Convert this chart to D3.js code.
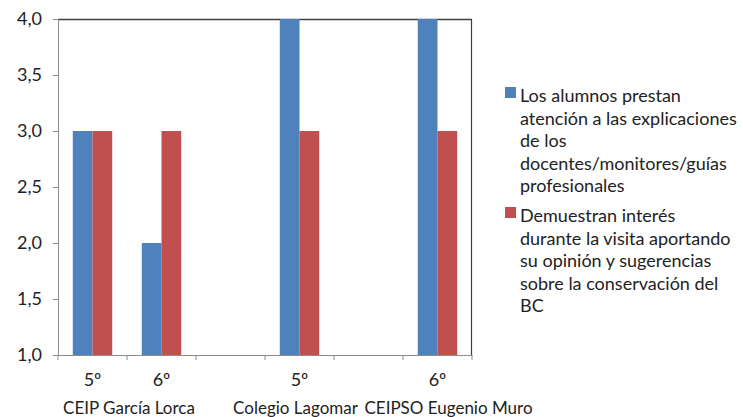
<!DOCTYPE html>
<html><head><meta charset="utf-8">
<script src="https://cdn.jsdelivr.net/npm/d3@7"></script>
<style>body{margin:0;background:#fff;} svg{display:block;font-family:Lato,"Open Sans",sans-serif;}</style>
</head><body><svg id="c" width="743" height="417"></svg>
<script>
const categories = ["5º","6º","","5º","","6º"];
const groups = ["CEIP García Lorca","Colegio Lagomar","CEIPSO Eugenio Muro"];
const groupCats = [[0,1],[3,3],[5,5]];
const seriesNames = ["Los alumnos prestan atención a las explicaciones de los docentes/monitores/guías profesionales",
 "Demuestran interés durante la visita aportando su opinión y sugerencias sobre la conservación del BC"];
const seriesA = [3,2,null,4,null,4];
const seriesB = [3,3,null,3,null,3];
const yTicks = [1,1.5,2,2.5,3,3.5,4];
const legendLines = [["Los alumnos prestan","atención a las explicaciones","de los","docentes/monitores/guías","profesionales"],
 ["Demuestran interés","durante la visita aportando","su opinión y sugerencias","sobre la conservación del","BC"]];
const colors = ["#4F81BD","#C0504D"];

const svg = d3.select("#c");
const L=58,R=472,T=19,B=355;
const FS=18;
const x = d3.scaleBand().domain(d3.range(categories.length)).range([L,R]).paddingInner(0).paddingOuter(0);
const y = d3.scaleLinear().domain([1,4]).range([B,T]);
const inner = d3.scaleBand().domain([0,1]).range([0,x.bandwidth()]).paddingInner(0).paddingOuter(0.75);

// plot border top/right
svg.append("line").attr("x1",L).attr("x2",R).attr("y1",T+0.5).attr("y2",T+0.5).attr("stroke","#404040").attr("stroke-width",1.5);
svg.append("line").attr("x1",R-0.5).attr("x2",R-0.5).attr("y1",T).attr("y2",B).attr("stroke","#404040").attr("stroke-width",1.2);

// bars
[seriesA,seriesB].forEach((s,si)=>{
  svg.append("g").selectAll("rect").data(s.map((v,i)=>({v,i})).filter(d=>d.v!=null)).join("rect")
    .attr("x",d=>x(d.i)+inner(si)).attr("width",inner.bandwidth())
    .attr("y",d=>y(d.v)).attr("height",d=>B-y(d.v)).attr("fill",colors[si]);
});

// y axis
const ya = svg.append("g").attr("transform",`translate(${L},0)`)
  .call(d3.axisLeft(y).tickValues(yTicks).tickFormat(d=>d3.format(".1f")(d).replace(".",",")).tickSize(5).tickPadding(11));
ya.select(".domain").attr("stroke","#8c8c8c");
ya.selectAll(".tick line").attr("stroke","#8c8c8c");
ya.selectAll("text").attr("font-size",FS).attr("fill","#222").attr("font-family","Lato");

// x axis
const xa = svg.append("g").attr("transform",`translate(0,${B})`)
  .call(d3.axisBottom(x).tickValues([]).tickSizeOuter(0));
xa.select(".domain").attr("stroke","#8c8c8c");
svg.append("g").selectAll("line").data(d3.range(categories.length+1)).join("line")
  .attr("x1",i=>L+i*x.bandwidth()).attr("x2",i=>L+i*x.bandwidth())
  .attr("y1",B).attr("y2",B+5).attr("stroke","#8c8c8c");
svg.append("g").selectAll("text").data(categories.map((c,i)=>({c,i})).filter(d=>d.c)).join("text")
  .attr("x",d=>x(d.i)+x.bandwidth()/2).attr("y",386).attr("text-anchor","middle")
  .attr("font-size",FS).attr("fill","#222").text(d=>d.c);
const groupShift=[2,-4,11];
svg.append("g").selectAll("text").data(groups).join("text")
  .attr("x",(g,i)=>{const a=groupCats[i]; return (x(a[0])+x(a[1])+x.bandwidth())/2+groupShift[i];})
  .attr("y",414).attr("text-anchor","middle").attr("font-size",17).attr("fill","#222").text(d=>d);

// legend
const lg = svg.append("g");
const starts=[102,222];
legendLines.forEach((lines,si)=>{
  lg.append("rect").attr("x",505).attr("y",starts[si]-15).attr("width",11).attr("height",11).attr("fill",colors[si]);
  lines.forEach((t,j)=>{
    lg.append("text").attr("x",520).attr("y",starts[si]+j*22.5).attr("font-size",FS).attr("fill","#222").text(t);
  });
});
</script></body></html>
